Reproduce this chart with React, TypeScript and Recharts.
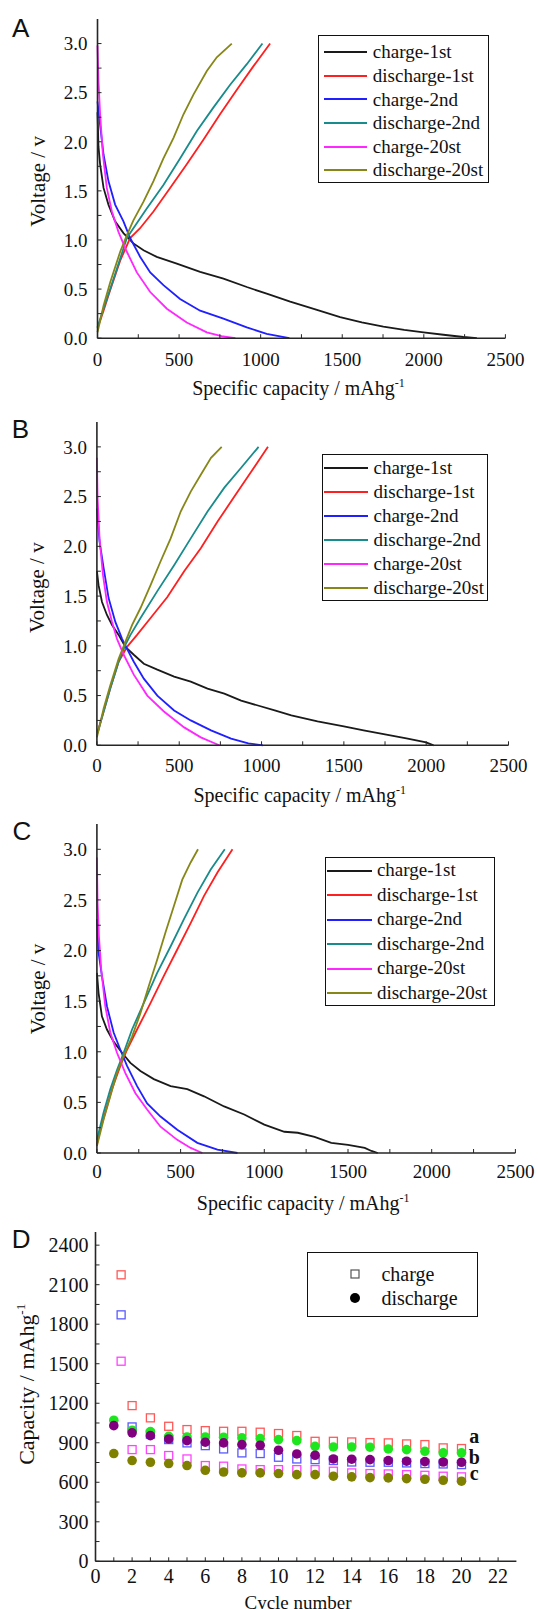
import {
  Legend,
  Line,
  LineChart,
  ReferenceDot,
  Scatter,
  ScatterChart,
  XAxis,
  YAxis,
} from "recharts";

document.body.style.margin = "0";

const SERIF = '"Liberation Serif", "Times New Roman", serif';
const SANS = '"Liberation Sans", Arial, sans-serif';
const AXIS_COLOR = "#262626";
const TEXT_COLOR = "#111";
const PAGE_W = 538;
const PAGE_H = 1609;

type Pt = [number, number];

/* ---------- A–C: voltage profiles (x = mAh/g, y = V) ---------- */
const SERIES_NAMES = [
  "charge-1st",
  "discharge-1st",
  "charge-2nd",
  "discharge-2nd",
  "charge-20st",
  "discharge-20st",
];
const SERIES_COLORS = ["#1a1a1a", "#ff1f1f", "#1f1fff", "#188c8c", "#ff26ff", "#878718"];

const CAP_TICKS = [0, 250, 500, 750, 1000, 1250, 1500, 1750, 2000, 2250, 2500];
const VOLT_TICKS = [0, 0.25, 0.5, 0.75, 1, 1.25, 1.5, 1.75, 2, 2.25, 2.5, 2.75, 3];

const A_CHARGE_1ST: Pt[] = [[0, 2.3], [6, 1.95], [16, 1.77], [37, 1.53], [67, 1.36], [108, 1.19], [159, 1.07], [220, 0.965], [282, 0.896], [363, 0.828], [486, 0.76], [629, 0.675], [772, 0.607], [915, 0.521], [1037, 0.453], [1181, 0.372], [1340, 0.29], [1487, 0.215], [1620, 0.16], [1752, 0.118], [1880, 0.085], [1998, 0.06], [2120, 0.035], [2243, 0.012], [2325, 0]];
const A_DISCHARGE_1ST: Pt[] = [[0, 0.1], [37, 0.28], [78, 0.49], [139, 0.79], [200, 1.02], [261, 1.12], [343, 1.29], [445, 1.53], [547, 1.77], [649, 2.02], [751, 2.28], [854, 2.53], [956, 2.77], [1058, 3.0]];
const A_CHARGE_2ND: Pt[] = [[0, 2.41], [16, 2.17], [37, 1.87], [67, 1.6], [108, 1.36], [159, 1.19], [200, 1.02], [261, 0.83], [323, 0.67], [404, 0.54], [506, 0.4], [629, 0.28], [772, 0.2], [915, 0.11], [1037, 0.044], [1176, 0]];
const A_DISCHARGE_2ND: Pt[] = [[0, 0.11], [37, 0.3], [78, 0.5], [139, 0.81], [180, 1.02], [220, 1.12], [302, 1.32], [404, 1.56], [506, 1.83], [609, 2.11], [711, 2.35], [813, 2.58], [915, 2.79], [1011, 3.0]];
const A_CHARGE_20ST: Pt[] = [[0, 2.98], [6, 2.62], [16, 2.28], [33, 1.87], [57, 1.53], [88, 1.29], [129, 1.08], [180, 0.88], [241, 0.67], [323, 0.47], [425, 0.3], [547, 0.16], [670, 0.06], [760, 0.02], [845, 0]];
const A_DISCHARGE_20ST: Pt[] = [[0, 0.06], [37, 0.33], [78, 0.57], [139, 0.88], [180, 1.05], [220, 1.2], [282, 1.39], [343, 1.6], [404, 1.83], [466, 2.04], [527, 2.28], [588, 2.48], [670, 2.72], [731, 2.86], [823, 3.0]];

const B_CHARGE_1ST: Pt[] = [[0, 1.75], [10, 1.61], [31, 1.44], [61, 1.31], [92, 1.21], [132, 1.11], [173, 0.99], [224, 0.91], [285, 0.82], [367, 0.76], [469, 0.69], [570, 0.64], [672, 0.57], [774, 0.52], [876, 0.45], [978, 0.4], [1080, 0.35], [1181, 0.3], [1340, 0.24], [1500, 0.19], [1620, 0.15], [1750, 0.11], [1880, 0.07], [2000, 0.03], [2045, 0]];
const B_DISCHARGE_1ST: Pt[] = [[4, 0.13], [41, 0.34], [81, 0.57], [132, 0.84], [183, 0.99], [244, 1.11], [326, 1.28], [428, 1.49], [530, 1.75], [631, 1.98], [733, 2.25], [835, 2.5], [937, 2.75], [1039, 3.0]];
const B_CHARGE_2ND: Pt[] = [[0, 2.38], [16, 2.05], [41, 1.78], [71, 1.48], [112, 1.24], [153, 1.07], [183, 0.97], [224, 0.84], [285, 0.67], [367, 0.5], [469, 0.35], [570, 0.25], [693, 0.15], [815, 0.067], [920, 0.02], [1008, 0]];
const B_DISCHARGE_2ND: Pt[] = [[4, 0.12], [41, 0.34], [81, 0.57], [132, 0.84], [173, 1.01], [204, 1.11], [265, 1.28], [367, 1.55], [469, 1.81], [570, 2.08], [672, 2.35], [774, 2.59], [876, 2.79], [982, 3.0]];
const B_CHARGE_20ST: Pt[] = [[0, 2.89], [4, 2.49], [16, 2.08], [37, 1.71], [61, 1.44], [92, 1.24], [122, 1.07], [163, 0.91], [224, 0.71], [306, 0.5], [407, 0.34], [530, 0.18], [631, 0.08], [743, 0]];
const B_DISCHARGE_20ST: Pt[] = [[0, 0.08], [41, 0.37], [81, 0.6], [132, 0.87], [173, 1.04], [214, 1.21], [265, 1.38], [326, 1.61], [387, 1.85], [448, 2.08], [509, 2.35], [570, 2.55], [631, 2.72], [693, 2.89], [758, 3.0]];

const C_CHARGE_1ST: Pt[] = [[0, 1.78], [10, 1.58], [30, 1.35], [60, 1.22], [100, 1.1], [150, 0.99], [200, 0.89], [260, 0.81], [340, 0.73], [440, 0.66], [540, 0.63], [640, 0.56], [760, 0.46], [880, 0.38], [1000, 0.28], [1120, 0.21], [1200, 0.2], [1300, 0.16], [1400, 0.1], [1500, 0.08], [1600, 0.05], [1640, 0.02], [1678, 0]];
const C_DISCHARGE_1ST: Pt[] = [[0, 0.08], [20, 0.23], [50, 0.4], [90, 0.63], [140, 0.86], [180, 1.02], [240, 1.22], [320, 1.48], [400, 1.75], [480, 2.01], [560, 2.27], [640, 2.54], [720, 2.77], [810, 3.0]];
const C_CHARGE_2ND: Pt[] = [[0, 2.31], [10, 1.98], [30, 1.75], [60, 1.45], [100, 1.19], [140, 1.02], [180, 0.86], [240, 0.66], [300, 0.49], [380, 0.36], [480, 0.23], [600, 0.1], [720, 0.033], [840, 0]];
const C_DISCHARGE_2ND: Pt[] = [[0, 0.13], [40, 0.4], [80, 0.63], [120, 0.82], [160, 0.99], [210, 1.22], [280, 1.48], [360, 1.78], [440, 2.04], [520, 2.31], [600, 2.57], [680, 2.8], [764, 3.0]];
const C_CHARGE_20ST: Pt[] = [[0, 2.92], [4, 2.47], [12, 2.14], [26, 1.81], [50, 1.45], [80, 1.19], [120, 0.99], [170, 0.79], [230, 0.59], [300, 0.43], [380, 0.26], [480, 0.13], [560, 0.05], [630, 0]];
const C_DISCHARGE_20ST: Pt[] = [[0, 0.07], [40, 0.33], [80, 0.56], [120, 0.79], [160, 0.96], [210, 1.15], [260, 1.38], [310, 1.65], [360, 1.91], [410, 2.18], [460, 2.44], [510, 2.7], [560, 2.87], [604, 3.0]];

/* ---------- D: cycling ---------- */
const CHARGE_CYCLES = [1.4, 2, 3, 4, 5, 6, 7, 8, 9, 10, 11, 12, 13, 14, 15, 16, 17, 18, 19, 20];
const DISCHARGE_CYCLES = [1, 2, 3, 4, 5, 6, 7, 8, 9, 10, 11, 12, 13, 14, 15, 16, 17, 18, 19, 20];

const CHARGE_A = [2175, 1182, 1089, 1025, 1000, 992, 987, 987, 980, 970, 955, 911, 911, 906, 901, 899, 891, 886, 861, 856];
const CHARGE_B = [1871, 1020, 965, 924, 899, 878, 853, 823, 818, 790, 777, 772, 765, 754, 752, 752, 747, 742, 739, 734];
const CHARGE_C = [1519, 848, 848, 803, 777, 727, 722, 701, 696, 696, 696, 696, 684, 671, 666, 663, 658, 653, 646, 641];
const DISCHARGE_A = [1071, 995, 985, 949, 944, 944, 942, 937, 932, 924, 916, 873, 868, 868, 866, 853, 848, 835, 823, 823];
const DISCHARGE_B = [1030, 975, 954, 929, 916, 904, 899, 886, 881, 843, 815, 805, 777, 775, 772, 765, 760, 757, 754, 752];
const DISCHARGE_C = [818, 765, 752, 742, 727, 691, 678, 671, 671, 666, 658, 658, 646, 641, 635, 633, 628, 623, 615, 608];

const CHARGE_COLORS = ["#ff5a5a", "#5a5aff", "#ff44ff"];
const DISCHARGE_COLORS = ["#1ee61e", "#800080", "#7f7f00"];

const CYCLE_TICKS = [0, 1, 2, 3, 4, 5, 6, 7, 8, 9, 10, 11, 12, 13, 14, 15, 16, 17, 18, 19, 20, 21, 22];
const CAPACITY_TICKS = [0, 150, 300, 450, 600, 750, 900, 1050, 1200, 1350, 1500, 1650, 1800, 1950, 2100, 2250, 2400];

const GROUP_LABELS = ["a", "b", "c"];
const GROUP_LABEL_CYCLE = 20.7;
const GROUP_LABEL_VALUES = [950, 796, 669];

/* ---------- layout ---------- */
type Box = { left: number; top: number; right: number; bottom: number };
type LegendBox = {
  left: number;
  top: number;
  width: number;
  height: number;
  rowH: number;
  padTop: number;
  lineLeft: number;
  lineW: number;
  textLeft: number;
};

type VoltagePanelProps = {
  letter: string;
  letterX: number;
  letterBaseline: number;
  plot: Box;
  curves: Pt[][];
  legend: LegendBox;
  xTickMargin: number;
  yTitleShift: number;
};

const toRows = (pts: Pt[]) => pts.map(([x, y]) => ({ x, y }));

// serif tick labels; only the "major" ticks get a number
const makeTick =
  (side: "x" | "y", fontSize: number, format: (v: number) => string) => (props: any) => {
    const label = format(props.payload.value);
    if (!label) return <g />;
    return (
      <text
        x={props.x}
        y={props.y}
        dy={side === "x" ? fontSize * 0.71 : fontSize * 0.355}
        textAnchor={side === "x" ? "middle" : "end"}
        style={{ fontFamily: SERIF, fontSize, fill: TEXT_COLOR }}
      >
        {label}
      </text>
    );
  };

const capLabel = (v: number) => (v % 500 === 0 ? String(v) : "");
const voltLabel = (v: number) => ((v * 2) % 1 === 0 ? v.toFixed(1) : "");
const cycleLabel = (v: number) => (v % 2 === 0 ? String(v) : "");
const capacityLabel = (v: number) => (v % 300 === 0 ? String(v) : "");

function PanelLetter({ x, baseline, children }: { x: number; baseline: number; children: string }) {
  return (
    <div
      style={{
        position: "absolute",
        left: x,
        top: baseline - 22,
        fontFamily: SANS,
        fontSize: 26,
        lineHeight: "26px",
        color: TEXT_COLOR,
      }}
    >
      {children}
    </div>
  );
}

function CurveLegend({ box }: { box: LegendBox }) {
  return (
    <div
      style={{
        width: box.width,
        height: box.height,
        boxSizing: "border-box",
        border: `1.5px solid ${TEXT_COLOR}`,
        background: "#fff",
        paddingTop: box.padTop - 1.5,
        fontFamily: SERIF,
        fontSize: 19,
        color: TEXT_COLOR,
        position: "relative",
      }}
    >
      {SERIES_NAMES.map((name, i) => (
        <div key={name} style={{ position: "relative", height: box.rowH }}>
          <span
            style={{
              position: "absolute",
              left: box.lineLeft - 1.5,
              top: box.rowH / 2 - 1,
              width: box.lineW,
              height: 2,
              background: SERIES_COLORS[i],
            }}
          />
          <span
            style={{
              position: "absolute",
              left: box.textLeft - 1.5,
              top: 0,
              height: box.rowH,
              lineHeight: `${box.rowH}px`,
              whiteSpace: "nowrap",
            }}
          >
            {name}
          </span>
        </div>
      ))}
    </div>
  );
}

function VoltagePanel({
  letter,
  letterX,
  letterBaseline,
  plot,
  curves,
  legend,
  xTickMargin,
  yTitleShift,
}: VoltagePanelProps) {
  const top = plot.top - 20;
  const xAxisH = 64;
  const height = plot.bottom - top + xAxisH;
  const midX = (plot.left + plot.right) / 2;
  const midY = (plot.top + plot.bottom) / 2 - top + yTitleShift;
  const axisLine = { stroke: AXIS_COLOR, strokeWidth: 1.6 };

  return (
    <>
      <PanelLetter x={letterX} baseline={letterBaseline}>
        {letter}
      </PanelLetter>
      <div style={{ position: "absolute", left: 0, top }}>
        <LineChart
          width={PAGE_W}
          height={height}
          margin={{ top: 20, right: PAGE_W - plot.right, bottom: 0, left: 0 }}
          style={{ fontFamily: SERIF }}
        >
          <XAxis
            type="number"
            dataKey="x"
            domain={[0, 2500]}
            ticks={CAP_TICKS}
            interval={0}
            tickSize={-4}
            tickMargin={xTickMargin}
            tick={makeTick("x", 19, capLabel)}
            tickLine={{ stroke: AXIS_COLOR }}
            axisLine={axisLine}
            height={xAxisH}
            label={() => (
              <text
                x={midX - 3}
                y={plot.bottom - top + 56.5}
                textAnchor="middle"
                style={{ fontFamily: SERIF, fontSize: 20, fill: TEXT_COLOR }}
              >
                Specific capacity / mAhg
                <tspan dy={-8} style={{ fontSize: 12 }}>
                  -1
                </tspan>
              </text>
            )}
          />
          <YAxis
            type="number"
            domain={[0, 3.25]}
            ticks={VOLT_TICKS}
            interval={0}
            tickSize={-4}
            tickMargin={14}
            tick={makeTick("y", 19, voltLabel)}
            tickLine={{ stroke: AXIS_COLOR }}
            axisLine={axisLine}
            width={plot.left}
            label={() => (
              <text
                x={44.5}
                y={midY}
                transform={`rotate(-90 44.5 ${midY})`}
                textAnchor="middle"
                style={{ fontFamily: SERIF, fontSize: 21, fill: TEXT_COLOR }}
              >
                Voltage / v
              </text>
            )}
          />
          <XAxis
            xAxisId="top"
            orientation="top"
            type="number"
            domain={[0, 2500]}
            height={0}
            tick={false}
            tickLine={false}
            axisLine={axisLine}
          />
          <YAxis
            yAxisId="right"
            orientation="right"
            type="number"
            domain={[0, 3.25]}
            width={0}
            tick={false}
            tickLine={false}
            axisLine={axisLine}
          />
          {curves.map((pts, i) => (
            <Line
              key={SERIES_NAMES[i]}
              name={SERIES_NAMES[i]}
              data={toRows(pts)}
              dataKey="y"
              type="linear"
              stroke={SERIES_COLORS[i]}
              strokeWidth={1.8}
              dot={false}
              activeDot={false}
              isAnimationActive={false}
            />
          ))}
          <Legend
            layout="vertical"
            align="center"
            verticalAlign="middle"
            wrapperStyle={{ left: legend.left, top: legend.top - top, width: legend.width, height: legend.height }}
            content={() => <CurveLegend box={legend} />}
          />
        </LineChart>
      </div>
    </>
  );
}

const squareShape = (color: string) => (props: any) =>
  (
    <rect
      x={props.cx - 4}
      y={props.cy - 4}
      width={8}
      height={8}
      fill="none"
      stroke={color}
      strokeWidth={1.3}
    />
  );

const circleShape = (color: string) => (props: any) =>
  <circle cx={props.cx} cy={props.cy} r={4.8} fill={color} />;

function CycleLegend() {
  return (
    <div
      style={{
        position: "relative",
        width: 171,
        height: 65,
        boxSizing: "border-box",
        border: `1.5px solid ${TEXT_COLOR}`,
        background: "#fff",
        fontFamily: SERIF,
        fontSize: 20,
        color: TEXT_COLOR,
      }}
    >
      {["charge", "discharge"].map((name, i) => (
        <div
          key={name}
          style={{ position: "absolute", left: 0, top: 22.6 + 24 * i - 12 - 1.5, width: 168, height: 24 }}
        >
          <svg width={20} height={24} style={{ position: "absolute", left: 37, top: 0 }}>
            {i === 0 ? (
              <rect x={6} y={8} width={8} height={8} fill="none" stroke="#555" strokeWidth={1.2} />
            ) : (
              <circle cx={10} cy={12} r={5} fill="#000" />
            )}
          </svg>
          <span style={{ position: "absolute", left: 73.4, top: 0, lineHeight: "24px" }}>{name}</span>
        </div>
      ))}
    </div>
  );
}

function CyclePanel() {
  const plot: Box = { left: 95.5, top: 1231.7, right: 516.4, bottom: 1561 };
  const top = plot.top - 20;
  const height = PAGE_H - top;
  const xAxisH = height - 20 - (plot.bottom - plot.top);
  const axisLine = { stroke: AXIS_COLOR, strokeWidth: 1.6 };
  const charge = [CHARGE_A, CHARGE_B, CHARGE_C];
  const discharge = [DISCHARGE_A, DISCHARGE_B, DISCHARGE_C];
  const titleY = 1384 - top;

  return (
    <>
      <PanelLetter x={11.7} baseline={1248}>
        D
      </PanelLetter>
      <div style={{ position: "absolute", left: 0, top }}>
        <ScatterChart
          width={PAGE_W}
          height={height}
          margin={{ top: 20, right: PAGE_W - plot.right, bottom: 0, left: 0 }}
          style={{ fontFamily: SERIF }}
        >
          <XAxis
            type="number"
            dataKey="x"
            domain={[0, 23]}
            ticks={CYCLE_TICKS}
            interval={0}
            tickSize={-4}
            tickMargin={12}
            tick={makeTick("x", 20, cycleLabel)}
            tickLine={{ stroke: AXIS_COLOR }}
            axisLine={axisLine}
            height={xAxisH}
            label={() => (
              <text
                x={298}
                y={1608.5 - top}
                textAnchor="middle"
                style={{ fontFamily: SERIF, fontSize: 19, fill: TEXT_COLOR }}
              >
                Cycle number
              </text>
            )}
          />
          <YAxis
            type="number"
            dataKey="y"
            domain={[0, 2500]}
            ticks={CAPACITY_TICKS}
            interval={0}
            tickSize={-4}
            tickMargin={11}
            tick={makeTick("y", 20, capacityLabel)}
            tickLine={{ stroke: AXIS_COLOR }}
            axisLine={axisLine}
            width={plot.left}
            label={() => (
              <text
                x={34}
                y={titleY}
                transform={`rotate(-90 34 ${titleY})`}
                textAnchor="middle"
                style={{ fontFamily: SERIF, fontSize: 22, fill: TEXT_COLOR }}
              >
                Capacity / mAhg
                <tspan dy={-9} style={{ fontSize: 13 }}>
                  -1
                </tspan>
              </text>
            )}
          />
          <XAxis
            xAxisId="top"
            orientation="top"
            type="number"
            domain={[0, 23]}
            height={0}
            tick={false}
            tickLine={false}
            axisLine={axisLine}
          />
          <YAxis
            yAxisId="right"
            orientation="right"
            type="number"
            domain={[0, 2500]}
            width={0}
            tick={false}
            tickLine={false}
            axisLine={axisLine}
          />
          {charge.map((vals, i) => (
            <Scatter
              key={`charge-${GROUP_LABELS[i]}`}
              name={`charge ${GROUP_LABELS[i]}`}
              data={vals.map((y, j) => ({ x: CHARGE_CYCLES[j], y }))}
              shape={squareShape(CHARGE_COLORS[i])}
              isAnimationActive={false}
            />
          ))}
          {discharge.map((vals, i) => (
            <Scatter
              key={`discharge-${GROUP_LABELS[i]}`}
              name={`discharge ${GROUP_LABELS[i]}`}
              data={vals.map((y, j) => ({ x: DISCHARGE_CYCLES[j], y }))}
              shape={circleShape(DISCHARGE_COLORS[i])}
              isAnimationActive={false}
            />
          ))}
          {GROUP_LABELS.map((lab, i) => (
            <ReferenceDot
              key={lab}
              x={GROUP_LABEL_CYCLE}
              y={GROUP_LABEL_VALUES[i]}
              r={0}
              fill="none"
              stroke="none"
              label={{
                value: lab,
                position: "center",
                fontSize: 20,
                fontWeight: "bold",
                fontFamily: SERIF,
                fill: TEXT_COLOR,
              }}
            />
          ))}
          <Legend
            layout="vertical"
            align="center"
            verticalAlign="middle"
            wrapperStyle={{ left: 307, top: 1251.7 - top, width: 171, height: 65 }}
            content={() => <CycleLegend />}
          />
        </ScatterChart>
      </div>
    </>
  );
}

export default function App() {
  return (
    <div
      style={{
        position: "relative",
        width: PAGE_W,
        height: PAGE_H,
        overflow: "hidden",
        background: "#fff",
      }}
    >
      <VoltagePanel
        letter="A"
        letterX={12}
        letterBaseline={36.7}
        plot={{ left: 97.5, top: 19.3, right: 505.4, bottom: 338.5 }}
        curves={[A_CHARGE_1ST, A_DISCHARGE_1ST, A_CHARGE_2ND, A_DISCHARGE_2ND, A_CHARGE_20ST, A_DISCHARGE_20ST]}
        legend={{ left: 318.3, top: 35, width: 171, height: 148.3, rowH: 23.6, padTop: 5.9, lineLeft: 5.9, lineW: 42.9, textLeft: 55 }}
        xTickMargin={18}
        yTitleShift={2.8}
      />
      <VoltagePanel
        letter="B"
        letterX={11.7}
        letterBaseline={438.3}
        plot={{ left: 96.9, top: 421.7, right: 508.5, bottom: 745 }}
        curves={[B_CHARGE_1ST, B_DISCHARGE_1ST, B_CHARGE_2ND, B_DISCHARGE_2ND, B_CHARGE_20ST, B_DISCHARGE_20ST]}
        legend={{ left: 321.8, top: 454.3, width: 166.1, height: 146.7, rowH: 24.1, padTop: 2, lineLeft: 2.4, lineW: 44.6, textLeft: 52.2 }}
        xTickMargin={17}
        yTitleShift={4}
      />
      <VoltagePanel
        letter="C"
        letterX={12.4}
        letterBaseline={840}
        plot={{ left: 96.9, top: 824.3, right: 515.4, bottom: 1153.3 }}
        curves={[C_CHARGE_1ST, C_DISCHARGE_1ST, C_CHARGE_2ND, C_DISCHARGE_2ND, C_CHARGE_20ST, C_DISCHARGE_20ST]}
        legend={{ left: 325.3, top: 857.3, width: 169.5, height: 148.4, rowH: 24.5, padTop: 1.2, lineLeft: 2.4, lineW: 44.6, textLeft: 52.1 }}
        xTickMargin={16}
        yTitleShift={0.5}
      />
      <CyclePanel />
    </div>
  );
}
